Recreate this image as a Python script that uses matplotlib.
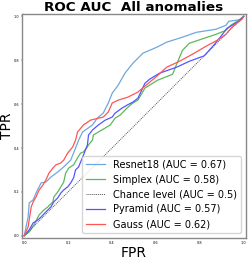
import matplotlib
matplotlib.use("Agg")
from matplotlib import pyplot as plt

# ROC curve points (fpr, tpr)
resnet_fpr = [0, 0.018, 0.023, 0.041, 0.054, 0.077, 0.099, 0.122, 0.153, 0.18, 0.212, 0.234, 0.248,
              0.266, 0.311, 0.333, 0.36, 0.383, 0.401, 0.428, 0.459, 0.495, 0.541, 0.604, 0.649,
              0.721, 0.784, 0.874, 0.919, 0.932, 0.991, 1.0]
resnet_tpr = [0, 0.086, 0.15, 0.164, 0.195, 0.241, 0.245, 0.268, 0.291, 0.314, 0.345, 0.4, 0.436,
              0.473, 0.505, 0.536, 0.559, 0.605, 0.65, 0.686, 0.741, 0.786, 0.832, 0.859, 0.882,
              0.905, 0.927, 0.941, 0.959, 0.977, 0.986, 1.0]

simplex_fpr = [0, 0.023, 0.045, 0.068, 0.09, 0.108, 0.131, 0.135, 0.153, 0.167, 0.18, 0.189, 0.203,
               0.225, 0.243, 0.257, 0.27, 0.288, 0.293, 0.311, 0.315, 0.338, 0.369, 0.392, 0.414,
               0.437, 0.468, 0.495, 0.518, 0.55, 0.608, 0.676, 0.698, 0.721, 0.752, 0.82, 0.874,
               0.919, 0.941, 0.977, 1.0]
simplex_tpr = [0, 0.018, 0.05, 0.095, 0.118, 0.132, 0.155, 0.177, 0.2, 0.223, 0.245, 0.286, 0.309,
               0.323, 0.355, 0.377, 0.382, 0.405, 0.414, 0.436, 0.459, 0.473, 0.491, 0.505, 0.536,
               0.55, 0.582, 0.605, 0.618, 0.673, 0.709, 0.736, 0.791, 0.845, 0.877, 0.9, 0.918,
               0.936, 0.959, 0.982, 1.0]

pyramid_fpr = [0, 0.023, 0.041, 0.063, 0.077, 0.099, 0.122, 0.135, 0.153, 0.167, 0.18, 0.198, 0.212,
               0.225, 0.234, 0.248, 0.257, 0.27, 0.288, 0.293, 0.311, 0.338, 0.369, 0.401, 0.414,
               0.446, 0.468, 0.495, 0.518, 0.55, 0.572, 0.617, 0.694, 0.752, 0.82, 0.865, 0.901,
               0.923, 0.977, 1.0]
pyramid_tpr = [0, 0.027, 0.059, 0.073, 0.086, 0.109, 0.132, 0.155, 0.173, 0.195, 0.209, 0.223, 0.241,
               0.264, 0.3, 0.314, 0.336, 0.368, 0.414, 0.459, 0.482, 0.505, 0.527, 0.541, 0.559,
               0.582, 0.595, 0.609, 0.627, 0.695, 0.714, 0.741, 0.768, 0.795, 0.82, 0.87, 0.915,
               0.945, 0.977, 1.0]

gauss_fpr = [0, 0.018, 0.032, 0.041, 0.054, 0.068, 0.086, 0.099, 0.113, 0.131, 0.144, 0.167, 0.18,
             0.198, 0.221, 0.234, 0.243, 0.27, 0.302, 0.36, 0.383, 0.401, 0.428, 0.473, 0.518,
             0.604, 0.649, 0.707, 0.766, 0.829, 0.887, 0.919, 0.946, 0.991, 1.0]
gauss_tpr = [0, 0.041, 0.132, 0.155, 0.177, 0.209, 0.232, 0.255, 0.286, 0.309, 0.323, 0.332, 0.345,
             0.377, 0.405, 0.436, 0.473, 0.505, 0.527, 0.541, 0.564, 0.605, 0.618, 0.632, 0.655,
             0.727, 0.768, 0.795, 0.827, 0.864, 0.895, 0.918, 0.95, 0.986, 1.0]

labels = ["Resnet18 (AUC = 0.67)", "Simplex (AUC = 0.58)", "Chance level (AUC = 0.5)",
          "Pyramid (AUC = 0.57)", "Gauss (AUC = 0.62)"]

fig = plt.figure(figsize=(2.49, 2.61), dpi=100)
ax = fig.add_axes([0.088, 0.088, 0.9, 0.858])

ax.plot(resnet_fpr, resnet_tpr, color="#6fa8dc", lw=0.9, label=labels[0])
ax.plot(simplex_fpr, simplex_tpr, color="#5cb85c", lw=0.9, label=labels[1])
ax.plot([0, 1], [0, 1], color="#555555", lw=0.7, linestyle=(0, (1, 1)), label=labels[2])
ax.plot(pyramid_fpr, pyramid_tpr, color="#5555ff", lw=0.9, label=labels[3])
ax.plot(gauss_fpr, gauss_tpr, color="#ff5555", lw=0.9, label=labels[4])

ax.set_xlim(-0.01, 1.01)
ax.set_ylim(-0.01, 1.01)
ax.set_aspect("equal")

ax.tick_params(labelsize=2.5, length=1, width=0.3, pad=1)
for s in ax.spines.values():
    s.set_color("#888888")
    s.set_linewidth(1)

ax.set_title("ROC AUC  All anomalies", fontsize=9.7, fontweight="bold", pad=2)
ax.set_xlabel("FPR", fontsize=10, labelpad=1)
ax.set_ylabel("TPR", fontsize=10)
ax.yaxis.set_label_coords(-0.035, 0.5)

ax.legend(loc="lower right", fontsize=7, handlelength=2.0)

fig.savefig("out.png", dpi=100)
